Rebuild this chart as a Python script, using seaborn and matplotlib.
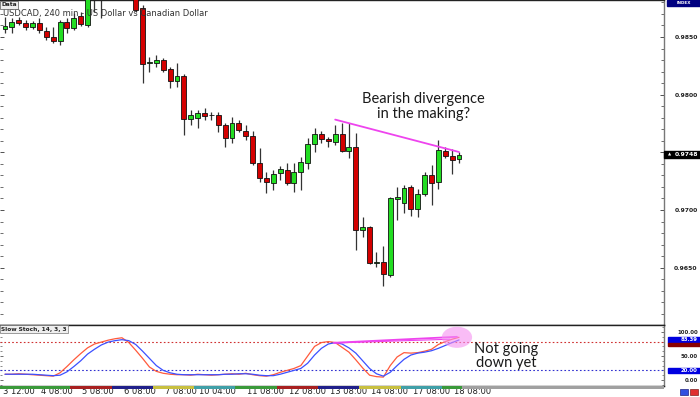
import numpy as np
import pandas as pd
import matplotlib
matplotlib.use("Agg")
import matplotlib.pyplot as plt
import matplotlib.transforms as mtransforms
from matplotlib.patches import Rectangle, Ellipse
from matplotlib.ticker import MultipleLocator, FixedLocator
import seaborn as sns

# ── Data (USDCAD, 240 min candles) ────────────────────────────────────────────
open_ = [0.98570, 0.98587, 0.98648, 0.98622, 0.98587, 0.98622, 0.98552, 0.98500, 0.98465, 0.98630,
         0.98578, 0.98682, 0.98604, 0.99081, 0.98994, 0.99124, 0.99168, 0.99081, 0.99150, 0.98994,
         0.98752, 0.98275, 0.98275, 0.98301, 0.98223, 0.98119, 0.98162, 0.97789, 0.97798, 0.97841,
         0.97824, 0.97824, 0.97737, 0.97624, 0.97755, 0.97685, 0.97642, 0.97408, 0.97278, 0.97234,
         0.97321, 0.97347, 0.97234, 0.97330, 0.97408, 0.97572, 0.97659, 0.97616, 0.97590, 0.97659,
         0.97512, 0.97546, 0.96827, 0.96853, 0.96541, 0.96549, 0.96437, 0.97096, 0.97061, 0.97200,
         0.97009, 0.97139, 0.97304, 0.97243, 0.97512, 0.97468, 0.97442]
high = [0.98674, 0.98665, 0.98674, 0.98648, 0.98639, 0.98665, 0.98587, 0.98587, 0.98648, 0.98665,
        0.98708, 0.98717, 0.98994, 0.99168, 0.99211, 0.99255, 0.99255, 0.99237, 0.99211, 0.99038,
        0.98778, 0.98327, 0.98344, 0.98318, 0.98240, 0.98275, 0.98179, 0.97867, 0.97867, 0.97885,
        0.97850, 0.97850, 0.97755, 0.97806, 0.97780, 0.97737, 0.97685, 0.97538, 0.97330, 0.97347,
        0.97382, 0.97408, 0.97408, 0.97460, 0.97624, 0.97711, 0.97685, 0.97633, 0.97737, 0.97755,
        0.97755, 0.97668, 0.96939, 0.96861, 0.96636, 0.96688, 0.97113, 0.97200, 0.97217, 0.97217,
        0.97182, 0.97330, 0.97390, 0.97607, 0.97546, 0.97529, 0.97503]
low = [0.98535, 0.98535, 0.98604, 0.98561, 0.98570, 0.98535, 0.98474, 0.98448, 0.98431, 0.98535,
       0.98561, 0.98596, 0.98587, 0.98717, 0.98665, 0.98994, 0.98994, 0.99012, 0.98908, 0.98717,
       0.98101, 0.98197, 0.98240, 0.98197, 0.98058, 0.98067, 0.97650, 0.97737, 0.97711, 0.97780,
       0.97780, 0.97676, 0.97546, 0.97581, 0.97676, 0.97607, 0.97390, 0.97243, 0.97148, 0.97174,
       0.97260, 0.97217, 0.97156, 0.97174, 0.97356, 0.97503, 0.97581, 0.97546, 0.97564, 0.97503,
       0.97451, 0.96653, 0.96766, 0.96532, 0.96506, 0.96341, 0.96419, 0.96913, 0.96974, 0.96948,
       0.96939, 0.97122, 0.97043, 0.97182, 0.97451, 0.97312, 0.97408]
close = [0.98596, 0.98630, 0.98622, 0.98587, 0.98622, 0.98561, 0.98500, 0.98465, 0.98630, 0.98578,
         0.98665, 0.98613, 0.98925, 0.98925, 0.99124, 0.99168, 0.99081, 0.99150, 0.98994, 0.98734,
         0.98266, 0.98283, 0.98301, 0.98214, 0.98119, 0.98162, 0.97789, 0.97824, 0.97841, 0.97815,
         0.97820, 0.97737, 0.97624, 0.97755, 0.97694, 0.97642, 0.97408, 0.97278, 0.97243, 0.97312,
         0.97356, 0.97234, 0.97330, 0.97416, 0.97572, 0.97659, 0.97616, 0.97598, 0.97659, 0.97512,
         0.97546, 0.96827, 0.96853, 0.96541, 0.96545, 0.96445, 0.97104, 0.97113, 0.97191, 0.97009,
         0.97139, 0.97304, 0.97234, 0.97520, 0.97468, 0.97434, 0.97477]

# Slow stochastic (14, 3, 3)
stoch_k = [12, 12, 13, 12, 11, 10, 9, 8, 15, 28, 42, 55, 67, 75, 79, 83, 86, 88, 78, 62,
           45, 27, 18, 14, 12, 11, 11, 10, 12, 11, 10, 11, 12, 13, 12, 14, 11, 9, 8, 11,
           16, 20, 24, 30, 50, 70, 78, 80, 78, 68, 58, 42, 25, 10, 7, 6, 30, 48, 57, 56,
           57, 60, 64, 74, 80, 85, 89]
stoch_d = [12, 12, 12, 12, 12, 11, 10, 9, 10, 17, 28, 40, 54, 64, 73, 79, 82, 84, 82, 74,
           60, 45, 30, 20, 15, 12, 11, 11, 11, 11, 11, 11, 12, 12, 13, 13, 12, 10, 9, 9,
           12, 16, 20, 24, 35, 52, 66, 75, 78, 75, 67, 56, 40, 24, 13, 8, 16, 30, 43, 52,
           56, 58, 61, 66, 72, 78, 83.39]

date_ticks = [-0.6, 5, 11, 17, 23, 28, 35, 41, 47, 53, 59, 65]
date_labels = ["3 12:00", "4 08:00", "5 08:00", "6 08:00", "7 08:00", "10 04:00",
               "11 08:00", "12 08:00", "13 08:00", "14 08:00", "17 08:00", "18 08:00"]

day_bounds = [-0.8, 9.5, 15.5, 21.5, 27.5, 33.5, 39.5, 45.5, 51.5, 57.5, 63.5, 66.5, 96]
day_colors = ["#3a9a3a", "#a82020", "#20208a", "#c8c040", "#40a0a8",
              "#3a9a3a", "#a82020", "#20208a", "#c8c040", "#40a0a8", "#3a9a3a", "#a0a0a0"]

price_ticks = [0.9650, 0.9700, 0.9750, 0.9800, 0.9850]
stoch_ticks = [0, 50, 100]
last_price = 0.9748
stoch_last = 83.39
level_hi, level_lo = 80, 20

trend_x, trend_y = [48, 66], [0.97784, 0.97503]
stoch_trend_x, stoch_trend_y = [47.8, 65.7], [77.5, 90]
stoch_trend2_x, stoch_trend2_y = [47.8, 64.7], [77, 85]

df = pd.DataFrame({"open": open_, "high": high, "low": low, "close": close})
df["idx"] = np.arange(len(df))
df["up"] = df["close"] >= df["open"]
st = pd.DataFrame({"idx": np.arange(len(stoch_k)), "K": stoch_k, "D": stoch_d})

# ── Figure ────────────────────────────────────────────────────────────────────
sns.set_style("white")
plt.rcParams["font.family"] = ["DejaVu Sans"]

fig = plt.figure(figsize=(7.0, 3.97), dpi=100)
W, H = 700, 397
ax = fig.add_axes([0, 1 - 325 / H, 664 / W, 325 / H])
ax_s = fig.add_axes([0, 1 - 386 / H, 664 / W, 61 / H])
ax_b = fig.add_axes([0, 1 - 388.5 / H, 664 / W, 2.5 / H])

xlim = (-0.73, 95.8)

# ── Candles ───────────────────────────────────────────────────────────────────
ax.vlines(df["idx"], df["low"], df["high"], color="#333333", lw=0.9, zorder=2)
body = (df["close"] - df["open"]).where(lambda s: s.abs() > 0.00003, 0.00003)
ax.bar(df["idx"], body, bottom=df["open"], width=0.72,
       color=np.where(df["up"], "#22dd22", "#d40000"),
       edgecolor="#111111", linewidth=0.6, zorder=3)

ax.plot(trend_x, trend_y, color="#ee44ee", lw=1.3, zorder=4)

ax.set_xlim(*xlim)
ax.set_ylim(0.96003, 0.98821)
ax.set_xticks([])
ax.yaxis.set_major_locator(FixedLocator(price_ticks))
ax.yaxis.set_minor_locator(MultipleLocator(0.001))
# the 0.9750 label sits under the last-price box
price_labels = ["" if abs(v - last_price) < 0.0005 else f"{v:.4f}" for v in price_ticks]
ax.set_yticklabels(price_labels, ha="right", fontweight="bold", fontsize=4.4, color="#222222")
ax.tick_params(axis="y", which="both", direction="in", left=True, right=True,
               labelleft=False, labelright=True, pad=24.3, colors="#333333")
ax.tick_params(axis="y", which="major", length=3, width=0.6)
ax.tick_params(axis="y", which="minor", length=2, width=0.5)
for t in ax.get_yticklabels():
    t.set_color("#222222")
for side in ["top", "bottom", "right"]:
    ax.spines[side].set_color("#222222")
    ax.spines[side].set_linewidth(1.0)
ax.spines["left"].set_visible(False)
ax.spines["right"].set_color("#777777")

ax.text(60.8, 0.97898, "Bearish divergence\nin the making?", ha="center", va="center",
        fontsize=10.5, family=["Lato", "DejaVu Sans"], color="#1a1a1a", linespacing=1.15)
ax.text(0.004, 0.957, "USDCAD, 240 min - US Dollar vs Canadian Dollar", transform=ax.transAxes,
        fontsize=6, color="#333333", va="center", ha="left")
ax.text(0.002, 0.993, "Data", transform=ax.transAxes, fontsize=4.2, fontweight="bold",
        color="#222222", va="top", ha="left",
        bbox=dict(boxstyle="square,pad=0.25", fc="#eeeeee", ec="#555555", lw=0.5))

# last price box
blend = mtransforms.blended_transform_factory(ax.transAxes, ax.transData)
ax.add_patch(Rectangle((1.0, last_price - 0.0003), 0.054, 0.0006, transform=blend,
                       color="black", clip_on=False, zorder=5))
ax.text(1.051, last_price, f"{last_price:.4f}", transform=blend, ha="right", va="center",
        fontsize=4.4, fontweight="bold", color="white", zorder=6, clip_on=False)
ax.text(1.006, last_price, "▲", transform=blend, ha="left", va="center",
        fontsize=3, color="white", zorder=6, clip_on=False)

# INDEX box
fig.patches.append(Rectangle((667 / W, 1 - 6 / H), 33 / W, 6 / H, transform=fig.transFigure,
                             color="#000080", zorder=5))
fig.text(684 / W, 1 - 3 / H, "INDEX", fontsize=3, color="white", ha="center", va="center",
         fontweight="bold", zorder=6)

# ── Slow stochastic ───────────────────────────────────────────────────────────
sns.lineplot(data=st, x="idx", y="K", ax=ax_s, color="#ff5a3c", lw=0.9, zorder=3)
sns.lineplot(data=st, x="idx", y="D", ax=ax_s, color="#3c50ff", lw=0.9, zorder=3)
ax_s.axhline(level_hi, color="#d03030", lw=0.8, ls=(0, (1.5, 2)), zorder=2)
ax_s.axhline(level_lo, color="#3030d0", lw=0.8, ls=(0, (1.5, 2)), zorder=2)
ax_s.plot(stoch_trend_x, stoch_trend_y, color="#ee44ee", lw=1.3, zorder=4)
ax_s.plot(stoch_trend2_x, stoch_trend2_y, color="#ee44ee", lw=0.8, zorder=4)
ax_s.add_patch(Ellipse((65.7, 89), 4.4, 44, color="#f590f0", alpha=0.6, lw=0, zorder=5))
ax_s.text(72.8, 50, "Not going\ndown yet", ha="center", va="center", fontsize=10.5,
          family=["Lato", "DejaVu Sans"], color="#1a1a1a", linespacing=1.05)

ax_s.set_xlim(*xlim)
ax_s.set_ylim(-12.5, 114.6)
ax_s.set_xlabel("")
ax_s.set_ylabel("")
ax_s.yaxis.set_major_locator(FixedLocator(stoch_ticks))
ax_s.yaxis.set_minor_locator(MultipleLocator(10))
ax_s.set_yticklabels([f"{v:.2f}" for v in stoch_ticks], ha="right",
                     fontweight="bold", fontsize=3.9, color="#222222")
ax_s.tick_params(axis="y", which="both", direction="in", left=True, right=True,
                 labelleft=False, labelright=True, pad=24.3, colors="#333333")
ax_s.tick_params(axis="y", which="major", length=2.5, width=0.5)
ax_s.tick_params(axis="y", which="minor", length=1.5, width=0.4)
for t in ax_s.get_yticklabels():
    t.set_color("#222222")
ax_s.xaxis.set_major_locator(FixedLocator(date_ticks))
ax_s.set_xticklabels(date_labels, ha="left", fontsize=6.0, color="#222222")
ax_s.tick_params(axis="x", which="major", direction="out", length=8, width=0.7,
                 color="#333333", pad=-7.2)
offset = mtransforms.ScaledTranslation(1.2 / 72, 0, fig.dpi_scale_trans)
for t in ax_s.get_xticklabels():
    t.set_transform(t.get_transform() + offset)
for side in ["top", "bottom", "right"]:
    ax_s.spines[side].set_color("#222222")
    ax_s.spines[side].set_linewidth(1.0)
ax_s.spines["left"].set_visible(False)
ax_s.spines["right"].set_color("#777777")

ax_s.text(0.002, 0.97, "Slow Stoch, 14, 3, 3", transform=ax_s.transAxes, fontsize=4.2,
          fontweight="bold", color="#222222", va="top", ha="left",
          bbox=dict(boxstyle="square,pad=0.25", fc="#eeeeee", ec="#777777", lw=0.5))

# value boxes on the stochastic scale
blend_s = mtransforms.blended_transform_factory(ax_s.transAxes, ax_s.transData)
ax_s.add_patch(Rectangle((1.006, stoch_last - 6), 0.048, 12, transform=blend_s,
                         color="#0000e0", clip_on=False, zorder=5))
ax_s.add_patch(Rectangle((1.006, stoch_last - 12), 0.048, 6, transform=blend_s,
                         color="#8a0000", clip_on=False, zorder=5))
ax_s.text(1.051, stoch_last, f"{stoch_last:.2f}", transform=blend_s, ha="right", va="center",
          fontsize=3.9, fontweight="bold", color="white", zorder=6, clip_on=False)
ax_s.add_patch(Rectangle((1.006, level_lo - 6), 0.048, 12, transform=blend_s,
                         color="#0000e0", clip_on=False, zorder=5))
ax_s.text(1.051, level_lo, f"{level_lo:.2f}", transform=blend_s, ha="right", va="center",
          fontsize=3.9, fontweight="bold", color="white", zorder=6, clip_on=False)

# ── Day colour strip ──────────────────────────────────────────────────────────
for x0, x1, c in zip(day_bounds[:-1], day_bounds[1:], day_colors):
    ax_b.axvspan(x0, x1, color=c, lw=0)
ax_b.set_xlim(*xlim)
ax_b.set_axis_off()

# little corner buttons
fig.patches.append(Rectangle((680 / W, 1 - 395 / H), 8 / W, 6 / H, transform=fig.transFigure,
                             fc="#3050e0", ec="#202080", lw=0.5))
fig.patches.append(Rectangle((690 / W, 1 - 395 / H), 8 / W, 6 / H, transform=fig.transFigure,
                             fc="#e03030", ec="#802020", lw=0.5))

fig.savefig("out.png", dpi=100)
plt.close(fig)
